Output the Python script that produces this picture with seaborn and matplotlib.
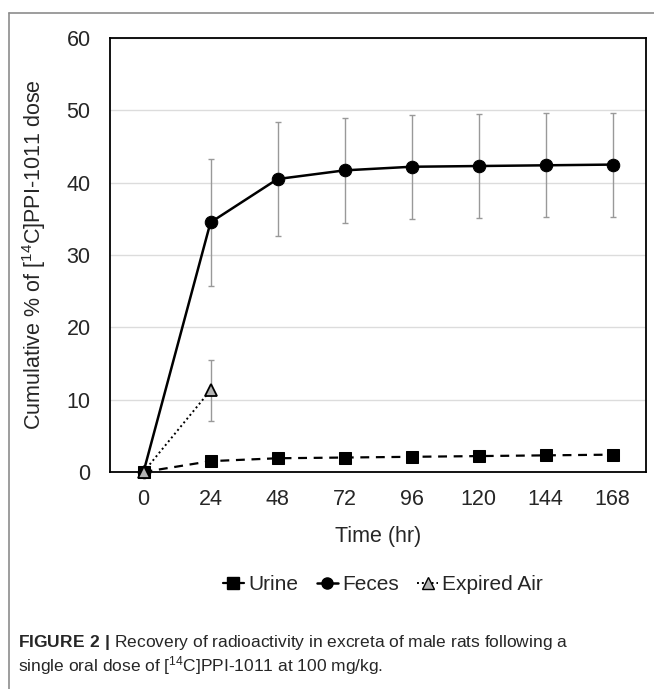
import matplotlib
matplotlib.use("Agg")
import matplotlib.pyplot as plt
from matplotlib.lines import Line2D
import seaborn as sns
import pandas as pd

# Time points (hr) and cumulative % of dose recovered
hours = [0, 24, 48, 72, 96, 120, 144, 168]
urine = [0, 1.5, 1.9, 2.0, 2.1, 2.2, 2.3, 2.4]
urine_sd = [0, 0.3, 0.3, 0.3, 0.3, 0.3, 0.3, 0.3]
feces = [0, 34.5, 40.5, 41.7, 42.2, 42.3, 42.4, 42.5]
feces_sd = [0, 8.8, 7.9, 7.3, 7.2, 7.2, 7.2, 7.2]
air_hours = [0, 24]
air = [0, 11.3]
air_sd = [0, 4.2]

sns.set_style("white")
plt.rcParams["font.family"] = ["Liberation Sans", "DejaVu Sans"]
plt.rcParams["mathtext.fontset"] = "custom"
plt.rcParams["mathtext.rm"] = "Liberation Sans"
plt.rcParams["mathtext.bf"] = "Liberation Sans:bold"
plt.rcParams["mathtext.default"] = "regular"

fig = plt.figure(figsize=(6.54, 6.89), dpi=100)
ax = fig.add_axes([110 / 654, 1 - 472 / 689, (646 - 110) / 654, (472 - 38) / 689])

# outer figure frame (top and left edges)
fig.add_artist(Line2D([9 / 654, 9 / 654], [0, 1 - 13 / 689], color="#8c8c8c", lw=1.2))
fig.add_artist(Line2D([9 / 654, 1], [1 - 13 / 689, 1 - 13 / 689], color="#8c8c8c", lw=1.2))

err_kw = dict(fmt="none", ecolor="#999999", elinewidth=1.0, capsize=2.5, capthick=1.0, zorder=2)
ax.errorbar(hours[1:], feces[1:], yerr=feces_sd[1:], **err_kw)
ax.errorbar(air_hours[1:], air[1:], yerr=air_sd[1:], **err_kw)
ax.errorbar(hours[1:], urine[1:], yerr=urine_sd[1:], **err_kw)

df_u = pd.DataFrame({"hr": hours, "pct": urine})
df_f = pd.DataFrame({"hr": hours, "pct": feces})
df_a = pd.DataFrame({"hr": air_hours, "pct": air})

sns.lineplot(data=df_u, x="hr", y="pct", ax=ax, color="black", lw=1.6, ls=(0, (4, 3)),
             marker="s", markersize=8, markeredgecolor="black", zorder=3, clip_on=False)
sns.lineplot(data=df_f, x="hr", y="pct", ax=ax, color="black", lw=1.8,
             marker="o", markersize=9, markeredgecolor="black", zorder=4, clip_on=False)
sns.lineplot(data=df_a, x="hr", y="pct", ax=ax, color="black", lw=1.4, ls=(0, (1, 1.5)),
             marker="^", markersize=9, markerfacecolor="#b3b3b3", markeredgecolor="black",
             markeredgewidth=1.3, zorder=5, clip_on=False)

ax.set_xlim(-12, 180)
ax.set_ylim(0, 60)
ax.set_xticks(hours)
ax.set_yticks(range(0, 61, 10))
ax.tick_params(axis="both", length=0, labelsize=15.5)
ax.tick_params(axis="x", pad=12)
ax.tick_params(axis="y", pad=14)
ax.yaxis.grid(True, color="#dcdcdc", lw=1.0)
ax.set_axisbelow(True)
for s in ax.spines.values():
    s.set_color("black")
    s.set_linewidth(1.3)

ax.set_xlabel("Time (hr)", fontsize=15.5, labelpad=12)
ax.set_ylabel("Cumulative % of [$^{14}$C]PPI-1011 dose", fontsize=15.5, labelpad=13)

handles = [
    Line2D([], [], color="black", lw=1.6, marker="s", markersize=8),
    Line2D([], [], color="black", lw=1.8, marker="o", markersize=8),
    Line2D([], [], color="black", lw=1.4, ls=(0, (1, 1.5)), marker="^", markersize=8,
           markerfacecolor="#b3b3b3", markeredgecolor="black"),
]
fig.legend(handles, ["Urine", "Feces", "Expired Air"], loc="center",
           bbox_to_anchor=(383 / 654, 1 - 585 / 689), ncol=3, frameon=False,
           fontsize=15, handlelength=1.0, handletextpad=0.2, columnspacing=0.9)

fig.text(18 / 654, 1 - 643 / 689,
         r"$\mathbf{FIGURE\ 2\ |}$ Recovery of radioactivity in excreta of male rats following a",
         fontsize=12.5, va="center", ha="left")
fig.text(18 / 654, 1 - 666 / 689,
         "single oral dose of [$^{14}$C]PPI-1011 at 100 mg/kg.",
         fontsize=12.5, va="center", ha="left")

fig.savefig("out.png", dpi=100)
